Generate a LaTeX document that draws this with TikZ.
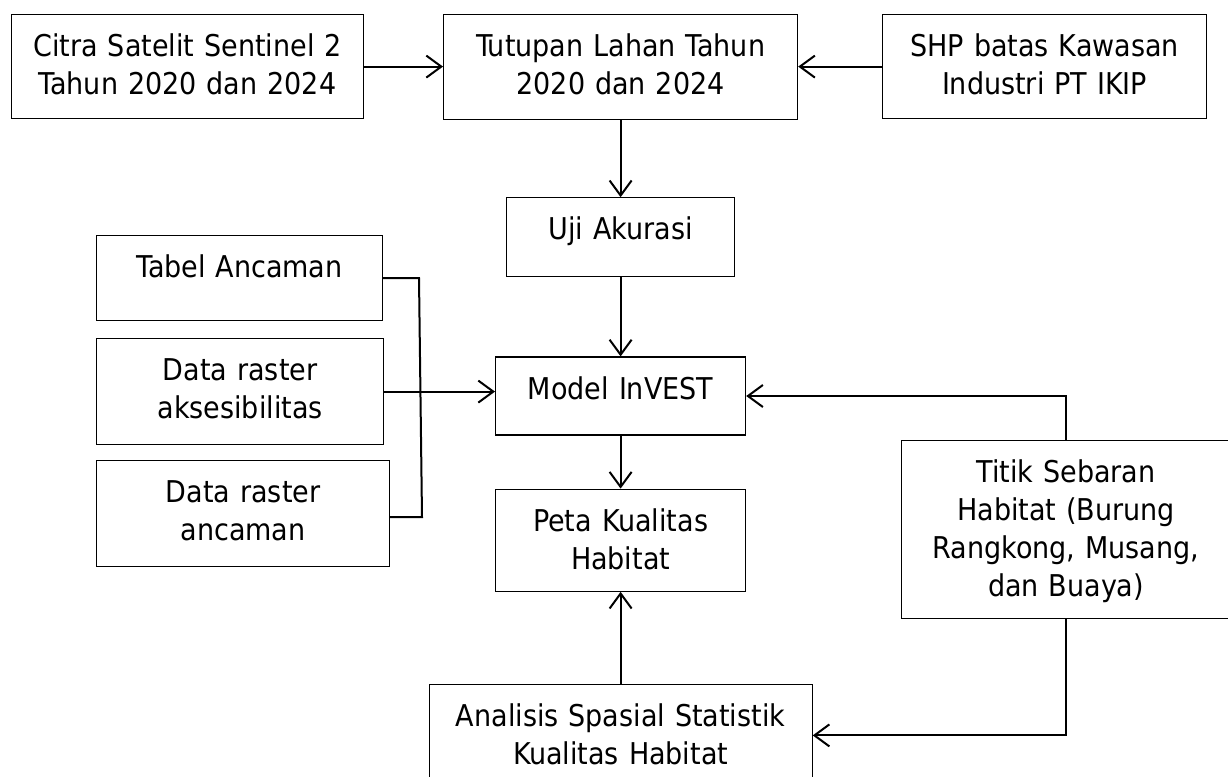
\documentclass[tikz,border=0pt]{standalone}
\usepackage{fontspec}
\setmainfont{DejaVu Sans Condensed}
\usetikzlibrary{positioning,arrows.meta}

\begin{document}
\begin{tikzpicture}[x=1pt, y=-1pt, node distance=18pt,
  box/.style={rectangle, draw=black, line width=1.2pt, inner sep=0pt, align=center, text height=42pt, font=\fontsize{30}{38}\selectfont},
  link/.style={line width=2pt},
  arr/.style={line width=2pt, -{Straight Barb[length=15pt, width=22pt]}}]
\useasboundingbox (0,0) rectangle (1228,776);
\clip (0,0) rectangle (1228,776);

% top row
\node (citra) [box, text width=352pt, text depth=62pt, anchor=north west] at (11,14) {Citra Satelit Sentinel 2\\Tahun 2020 dan 2024};
\node (tutupan) [box, text width=354pt, text depth=63pt, anchor=north west] at (443,14) {Tutupan Lahan Tahun\\2020 dan 2024};
\node (shp) [box, text width=324pt, text depth=62pt, anchor=north west] at (882,14) {SHP batas Kawasan\\Industri PT IKIP};

% middle column
\node (uji) [box, text width=228pt, text depth=37pt, below=77pt of tutupan] {Uji Akurasi};
\node (model) [box, text width=250pt, text depth=36pt, below=79pt of uji] {Model InVEST};
\node (peta) [box, text width=250pt, text depth=60pt, below=53pt of model] {Peta Kualitas\\Habitat};
\node (analisis) [box, text width=383pt, text depth=60pt, below=92pt of peta] {Analisis Spasial Statistik\\Kualitas Habitat};

% left column
\node (tabel) [box, text width=286pt, text depth=43pt, anchor=north west] at (96,235) {Tabel Ancaman};
\node (akses) [box, text width=287pt, text depth=64pt, anchor=north west] at (96,338) {Data raster\\aksesibilitas};
\node (ancaman) [box, text width=293pt, text depth=64pt, anchor=north west] at (96,460) {Data raster\\ancaman};

% right side
\node (titik) [box, text width=329pt, text depth=136pt, anchor=north west] at (901,440) {Titik Sebaran\\Habitat (Burung\\Rangkong, Musang,\\dan Buaya)};

\coordinate (jtop) at (419,278);
\coordinate (jbot) at (422,517);

\draw[arr] (citra.east) -- (citra.east -| tutupan.west);
\draw[arr] (shp.west) -- (shp.west -| tutupan.east);
\draw[arr] (tutupan) -- (uji);
\draw[arr] (uji) -- (model);
\draw[arr] (model) -- (peta);
\draw[arr] (analisis) -- (peta);
\draw[arr] (akses.east) -- (akses.east -| model.west);
\draw[link] (tabel.east) -- (jtop) -- (jbot) -- (jbot -| ancaman.east);
\draw[arr] (titik.north) |- (model.east);
\draw[arr] (titik.south) |- (analisis.east);

\end{tikzpicture}
\end{document}
